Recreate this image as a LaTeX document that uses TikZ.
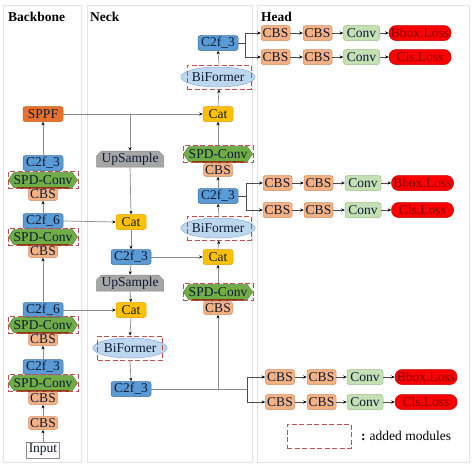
\documentclass[tikz,border=0pt]{standalone}
\usepackage{fontspec}
\setmainfont{Liberation Serif}
\usetikzlibrary{shapes.geometric,shapes.symbols,shapes.misc,arrows.meta,calc}
\definecolor{c2fc}{HTML}{5B9BD5}
\definecolor{c2fd}{HTML}{41719C}
\definecolor{cbsc}{HTML}{F4B183}
\definecolor{cbsd}{HTML}{D09065}
\definecolor{convc}{HTML}{C5E0B4}
\definecolor{convd}{HTML}{9DBF86}
\definecolor{lossc}{HTML}{FF0000}
\definecolor{lossd}{HTML}{C00000}
\definecolor{losst}{HTML}{7F0000}
\definecolor{catc}{HTML}{FFC000}
\definecolor{catd}{HTML}{D9A000}
\definecolor{sppfc}{HTML}{E8712D}
\definecolor{sppfd}{HTML}{C55A11}
\definecolor{upc}{HTML}{A6A6A6}
\definecolor{upd}{HTML}{8C8C8C}
\definecolor{bic}{HTML}{BDD7EE}
\definecolor{bid}{HTML}{8FAADC}
\definecolor{spdc}{HTML}{70AD47}
\definecolor{spdd}{HTML}{548235}
\definecolor{spdu}{HTML}{843C0C}
\definecolor{dashr}{HTML}{C0504D}
\definecolor{panelc}{HTML}{E3E3E3}
\definecolor{linec}{HTML}{8A8A8A}
\definecolor{txtc}{HTML}{0D1A33}
\newcommand\myfs{\fontsize{13.5}{15}\selectfont}
\newcommand\spdnode[3]{%
  \node[spd] (#1) at (#2,#3) {SPD-Conv};
  \draw[spdline] ($(#1.south)+(-26,0)$) -- ($(#1.south)+(26,0)$);
  \node[added, minimum width=70pt, minimum height=17pt] (#1box) at (#2,#3) {};
}
\begin{document}
\begin{tikzpicture}[x=1pt,y=-1pt,
  every node/.style={font=\myfs, text=txtc, inner ysep=0pt, inner xsep=1pt},
  blk/.style={rounded corners=2.5pt, line width=0.5pt, minimum height=14pt},
  c2f/.style={blk, fill=c2fc, draw=c2fd, minimum width=40pt, minimum height=15pt},
  cbs/.style={blk, fill=cbsc, draw=cbsd, minimum width=29pt, minimum height=13pt},
  hcbs/.style={blk, fill=cbsc, draw=cbsd, minimum width=29pt, minimum height=15pt},
  conv/.style={blk, fill=convc, draw=convd, minimum width=36pt, minimum height=15pt},
  loss/.style={rounded corners=7pt, fill=lossc, draw=lossd, line width=0.5pt, minimum width=62pt, minimum height=15pt, text=losst},
  cat/.style={blk, fill=catc, draw=catd, minimum width=30pt, minimum height=15pt},
  sppf/.style={blk, fill=sppfc, draw=sppfd, minimum width=40pt, minimum height=15pt},
  upbox/.style={chamfered rectangle, chamfered rectangle corners={north west,north east}, chamfered rectangle xsep=5pt, chamfered rectangle ysep=0pt, chamfered rectangle angle=45, fill=upc, draw=upd, line width=0.5pt, minimum width=67pt, minimum height=16pt, inner xsep=0pt},
  bif/.style={ellipse, fill=bic, draw=bid, line width=0.5pt, minimum width=63pt, minimum height=20pt, inner sep=0pt},
  spd/.style={signal, signal to=west and east, signal pointer angle=110, fill=spdc, draw=spdd, line width=0.5pt, minimum width=69pt, minimum height=15pt, inner xsep=0pt},
  spdline/.style={draw=spdu, line width=1.6pt},
  added/.style={draw=dashr, line width=1pt, dash pattern=on 5pt off 2.5pt},
  inbox/.style={draw=black!45, fill=white, line width=0.6pt, minimum width=33pt, minimum height=16pt},
  panel/.style={draw=panelc, line width=0.8pt},
  ttl/.style={font=\myfs\bfseries, anchor=west, text=black},
  arr/.style={draw=linec, line width=0.7pt, -{Stealth[length=3.5pt,width=3pt,color=black]}},
  ln/.style={draw=linec, line width=0.7pt},
  harr/.style={draw=black!70, line width=0.6pt, -{Stealth[length=3.5pt,width=3pt,color=black]}},
  hln/.style={draw=black!70, line width=0.6pt}
]
\useasboundingbox (0,0) rectangle (474,467);
\fill[white] (0,0) rectangle (474,467);
% panels
\draw[panel] (3,5) rectangle (81,462);
\draw[panel] (87,5) rectangle (252,462);
\draw[panel] (257,5) rectangle (469,462);
\node[ttl] (tb) at (7,17) {Backbone};
\node[ttl] (tn) at (89,17) {Neck};
\node[ttl] (th) at (260,17) {Head};

% ---------------- Backbone ----------------
\node[sppf] (sppf) at (43,114) {SPPF};
\node[c2f] (b1) at (43,163) {C2f\_3};
\node[cbs] (b1c) at (43,194) {CBS};
\spdnode{b1s}{43}{180}
\node[c2f] (b2) at (43,221) {C2f\_6};
\node[cbs] (b2c) at (43,251) {CBS};
\spdnode{b2s}{43}{237}
\node[c2f] (b3) at (43,310) {C2f\_6};
\node[cbs] (b3c) at (43,339) {CBS};
\spdnode{b3s}{43}{325}
\node[c2f] (b4) at (43,367) {C2f\_3};
\node[cbs] (b4c) at (43,398) {CBS};
\spdnode{b4s}{43}{383}
\node[cbs] (b5) at (43,423) {CBS};
\node[inbox] (inp) at (43,450) {Input};

\draw[arr] (inp.north) -- (b5.south);
\draw[arr] (b5.north) -- (b4c.south);
\draw[arr] (b4.north) -- (b3c.south);
\draw[arr] (b3.north) -- (b2c.south);
\draw[arr] (b2.north) -- (b1c.south);
\draw[arr] (b1.north) -- (sppf.south);

% ---------------- Neck column 1 ----------------
\node[upbox] (up1) at (130,159) {UpSample};
\node[cat] (cat1) at (131,222) {Cat};
\node[c2f] (n1) at (131,257) {C2f\_3};
\node[upbox] (up2) at (130,283) {UpSample};
\node[cat] (cat2) at (131,310) {Cat};
\node[bif] (bi1) at (130,348) {BiFormer};
\node[added, minimum width=65pt, minimum height=24pt] (bi1box) at (130,348) {};
\node[c2f] (n2) at (131,389) {C2f\_3};

% ---------------- Neck column 2 ----------------
\node[c2f] (t1) at (218,43) {C2f\_3};
\node[bif] (bit) at (218,77) {BiFormer};
\node[added, minimum width=64pt, minimum height=24pt] (bitbox) at (219,77) {};
\node[cat] (catt) at (218,114) {Cat};
\node[cbs] (cbst) at (218,170) {CBS};
\spdnode{spdt}{218}{154}
\node[c2f] (m1) at (218,196) {C2f\_3};
\node[bif] (bim) at (218,228) {BiFormer};
\node[added, minimum width=64pt, minimum height=24pt] (bimbox) at (219,228) {};
\node[cat] (catm) at (218,257) {Cat};
\node[cbs] (cbsm) at (218,308) {CBS};
\spdnode{spdm}{218}{292}

% neck connections
\coordinate (j1) at (130,114);
\draw[arr] (sppf.east) -- (catt.west);
\draw[arr] (j1) -- (up1.north);
\draw[arr] (up1.south) -- (cat1.north);
\draw[arr] (b2.east) -- (cat1.west);
\draw[arr] (cat1.south) -- (n1.north);
\draw[arr] (n1.east) -- (catm.west);
\draw[arr] (n1.south) -- (up2.north);
\draw[arr] (up2.south) -- (cat2.north);
\draw[arr] (b3.east) -- (cat2.west);
\draw[arr] (cat2.south) -- (bi1box.north);
\draw[arr] (bi1box.south) -- (n2.north);
\coordinate (hb3) at (247,389);
\draw[ln] (n2.east) -- (hb3);
\draw[arr] (218,389) -- (cbsm.south);
\draw[arr] (spdmbox.north) -- (catm.south);
\draw[arr] (catm.north) -- (bimbox.south);
\draw[arr] (bimbox.north) -- (m1.south);
\draw[arr] (m1.north) -- (cbst.south);
\draw[arr] (spdtbox.north) -- (catt.south);
\draw[arr] (catt.north) -- (bitbox.south);
\draw[arr] (bitbox.north) -- (t1.south);

% ---------------- Head ----------------
% set 1
\node[hcbs] (h1a) at (275.5,33) {CBS};
\node[hcbs] (h1b) at (317.5,33) {CBS};
\node[conv] (h1c) at (361.5,33) {Conv};
\node[loss] (h1d) at (420,33) {Bbox.Loss};
\node[hcbs] (h2a) at (275.5,57) {CBS};
\node[hcbs] (h2b) at (317.5,57) {CBS};
\node[conv] (h2c) at (361.5,57) {Conv};
\node[loss] (h2d) at (420,57) {Cls.Loss};
% set 2
\node[hcbs] (h3a) at (277.5,183) {CBS};
\node[hcbs] (h3b) at (318.5,183) {CBS};
\node[conv] (h3c) at (363,183) {Conv};
\node[loss] (h3d) at (422.5,183) {Bbox.Loss};
\node[hcbs] (h4a) at (277.5,210) {CBS};
\node[hcbs] (h4b) at (318.5,210) {CBS};
\node[conv] (h4c) at (363,210) {Conv};
\node[loss] (h4d) at (422.5,210) {Cls.Loss};
% set 3
\node[hcbs] (h5a) at (280,377) {CBS};
\node[hcbs] (h5b) at (321.5,377) {CBS};
\node[conv] (h5c) at (365,377) {Conv};
\node[loss] (h5d) at (426,377) {Bbox.Loss};
\node[hcbs] (h6a) at (280,402) {CBS};
\node[hcbs] (h6b) at (321.5,402) {CBS};
\node[conv] (h6c) at (365,402) {Conv};
\node[loss] (h6d) at (426,402) {Cls.Loss};

\coordinate (hb1) at (245,43);
\coordinate (hb2) at (246,196);
\draw[hln] (t1.east) -- (hb1);
\draw[hln] (m1.east) -- (hb2);
\draw[harr] (hb1) |- (h1a.west);
\draw[harr] (hb1) |- (h2a.west);
\draw[harr] (hb2) |- (h3a.west);
\draw[harr] (hb2) |- (h4a.west);
\draw[harr] (hb3) |- (h5a.west);
\draw[harr] (hb3) |- (h6a.west);
\foreach \r in {1,...,6}{
  \draw[harr] (h\r a.east) -- (h\r b.west);
  \draw[harr] (h\r b.east) -- (h\r c.west);
  \draw[harr] (h\r c.east) -- (h\r d.west);
}

% legend
\node[added, minimum width=64pt, minimum height=24pt] (leg) at (319,436) {};
\node[anchor=west, text=black] (legt) at (360,436) {\textbf{:}\hspace{4pt}added modules};
\end{tikzpicture}
\end{document}
